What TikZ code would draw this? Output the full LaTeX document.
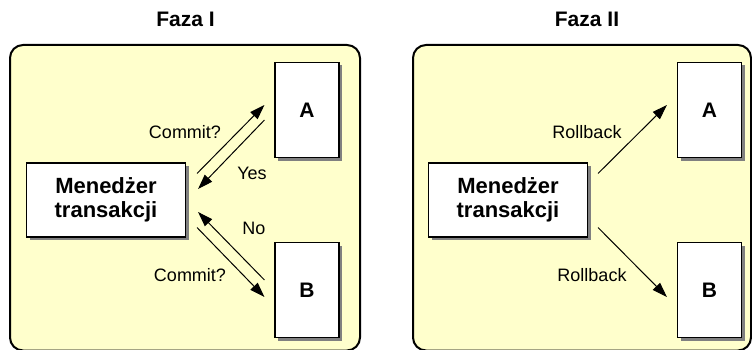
\documentclass[tikz,border=0pt]{standalone}
\usepackage{fontspec}
\setmainfont{Liberation Sans}
\usetikzlibrary{arrows.meta,shadows,calc}
\definecolor{panelfill}{HTML}{FFFFCC}
\tikzset{
  panel/.style={draw=black, line width=2pt, fill=panelfill, rounded corners=13pt},
  box/.style={draw=black, line width=1.1pt, fill=white, inner sep=0pt,
    drop shadow={shadow xshift=3pt, shadow yshift=-3pt, fill=black!50, opacity=1}},
  mgr/.style={box, minimum width=159pt, minimum height=74pt, align=center,
    font=\fontsize{22}{24}\selectfont\bfseries},
  party/.style={box, minimum width=64pt, minimum height=95pt,
    font=\fontsize{21}{24}\selectfont\bfseries},
  title/.style={font=\fontsize{21}{24}\selectfont\bfseries},
  lbl/.style={font=\fontsize{18}{20}\selectfont},
  conn/.style={line width=1pt, -{Triangle[length=15pt,width=10pt]}}
}
\begin{document}
\begin{tikzpicture}[x=1pt,y=-1pt]
\useasboundingbox (0,0) rectangle (752,350);
% panels
\draw[panel] (10,45) rectangle (360,350.5);
\draw[panel] (413,45) rectangle (751,350.5);
% titles
\node[title] (t1) at (185.5,19.5) {Faza I};
\node[title] (t2) at (587,19.5) {Faza II};
% phase I nodes
\node[mgr] (m1) at (106,200) {Menedżer\\transakcji};
\node[party] (a1) at (307,110) {A};
\node[party] (b1) at (307,290) {B};
% phase II nodes
\node[mgr] (m2) at (508,200) {Menedżer\\transakcji};
\node[party] (a2) at (709.5,110) {A};
\node[party] (b2) at (709.5,290) {B};
% phase I connectors
\coordinate (c1s) at ($(m1.north east)+(11,11)$);
\coordinate (c1e) at ($(a1.west)+(-10,-5)$);
\coordinate (ys) at ($(a1.west)+(-10,10)$);
\coordinate (ye) at ($(m1.east)+(12,-11)$);
\coordinate (ns) at ($(b1.west)+(-10,-10)$);
\coordinate (ne) at ($(m1.east)+(12,12)$);
\coordinate (c2s) at ($(m1.south east)+(11,-10)$);
\coordinate (c2e) at ($(b1.west)+(-10,7)$);
\draw[conn] (c1s) -- (c1e);
\draw[conn] (ys) -- (ye);
\draw[conn] (ns) -- (ne);
\draw[conn] (c2s) -- (c2e);
\node[lbl] (l1) at (185,132) {Commit?};
\node[lbl] (l2) at (252,173) {Yes};
\node[lbl] (l3) at (254,228) {No};
\node[lbl] (l4) at (190,275) {Commit?};
% phase II connectors
\coordinate (r1s) at ($(m2.north east)+(10,11)$);
\coordinate (r1e) at ($(a2.west)+(-10,-5)$);
\coordinate (r2s) at ($(m2.south east)+(10,-10)$);
\coordinate (r2e) at ($(b2.west)+(-10,7)$);
\draw[conn] (r1s) -- (r1e);
\draw[conn] (r2s) -- (r2e);
\node[lbl] (l5) at (587,132) {Rollback};
\node[lbl] (l6) at (592,275) {Rollback};
\end{tikzpicture}
\end{document}
